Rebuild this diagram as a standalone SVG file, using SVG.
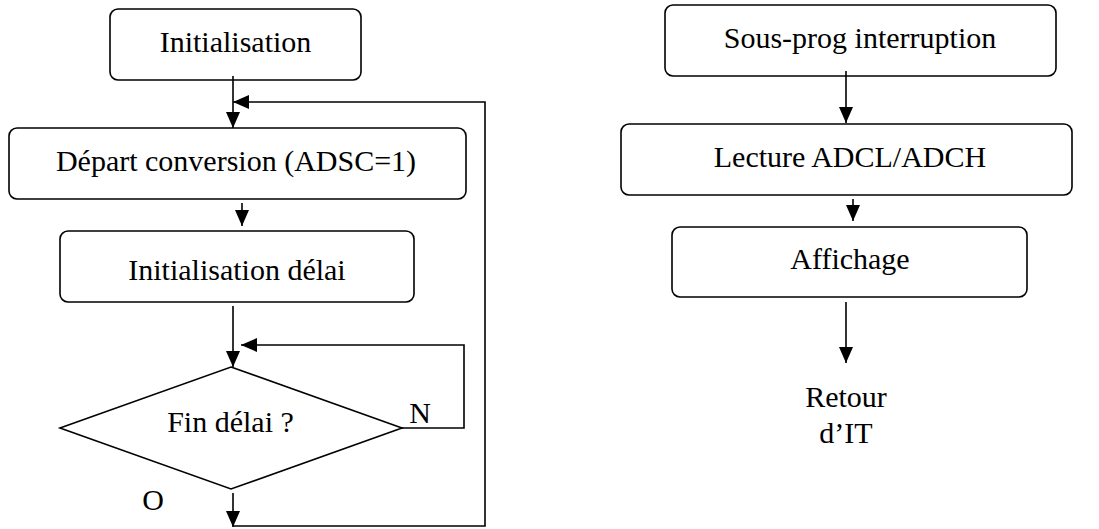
<svg xmlns="http://www.w3.org/2000/svg" width="1099" height="529" viewBox="0 0 1099 529">
<defs>
<style>
.box{fill:#fff;stroke:#000;stroke-width:1.6}
.t{font-family:'Liberation Serif',Tinos,'Times New Roman',Times,serif;font-size:30px;fill:#000;text-anchor:middle}
.c{fill:none;stroke:#000;stroke-width:1.6}
</style>
<marker id="ah" viewBox="0 0 16 14" refX="16" refY="7" markerWidth="16" markerHeight="14" markerUnits="userSpaceOnUse" orient="auto">
<path d="M0,0 L16,7 L0,14 Z" fill="#000"/>
</marker>
</defs>
<rect width="1099" height="529" fill="#fff"/>
<g id="n-init">
<rect class="box" x="110" y="9" width="251" height="71" rx="8"/>
<text class="t" x="235.5" y="52">Initialisation</text>
</g>
<g id="n-depart">
<rect class="box" x="9" y="128" width="457" height="71" rx="8"/>
<text class="t" x="236" y="171">Départ conversion (ADSC=1)</text>
</g>
<g id="n-initdelai">
<rect class="box" x="60" y="231" width="354" height="71" rx="8"/>
<text class="t" x="237" y="280">Initialisation délai</text>
</g>
<g id="n-findelai">
<polygon class="box" points="231,367 402,428 231,489 60,428"/>
<text class="t" x="230.5" y="432">Fin délai ?</text>
</g>
<g id="n-sousprog">
<rect class="box" x="665" y="5" width="391" height="71" rx="8"/>
<text class="t" x="860" y="48">Sous-prog interruption</text>
</g>
<g id="n-lecture">
<rect class="box" x="621" y="124" width="451" height="71" rx="8"/>
<text class="t" x="850" y="167">Lecture ADCL/ADCH</text>
</g>
<g id="n-affichage">
<rect class="box" x="672" y="227" width="355" height="70" rx="8"/>
<text class="t" x="850" y="269">Affichage</text>
</g>
<g id="n-retour">
<text class="t" x="846" y="407">Retour</text>
<text class="t" x="846" y="443">d’IT</text>
</g>
<g id="connectors">
<line class="c" x1="233" y1="76" x2="233" y2="128" marker-end="url(#ah)"/>
<polyline class="c" points="233,526 485,526 485,102 233,102" marker-end="url(#ah)"/>
<line class="c" x1="242" y1="203" x2="242" y2="226" marker-end="url(#ah)"/>
<line class="c" x1="233" y1="306" x2="233" y2="367" marker-end="url(#ah)"/>
<polyline class="c" points="402,428 464,428 464,345 241,345" marker-end="url(#ah)"/>
<line class="c" x1="233" y1="493" x2="233" y2="527" marker-end="url(#ah)"/>
<line class="c" x1="846" y1="71" x2="846" y2="123" marker-end="url(#ah)"/>
<line class="c" x1="853" y1="199" x2="853" y2="221" marker-end="url(#ah)"/>
<line class="c" x1="846" y1="302" x2="846" y2="363" marker-end="url(#ah)"/>
<text class="t" x="420" y="423">N</text>
<text class="t" x="153" y="510">O</text>
</g>
</svg>
